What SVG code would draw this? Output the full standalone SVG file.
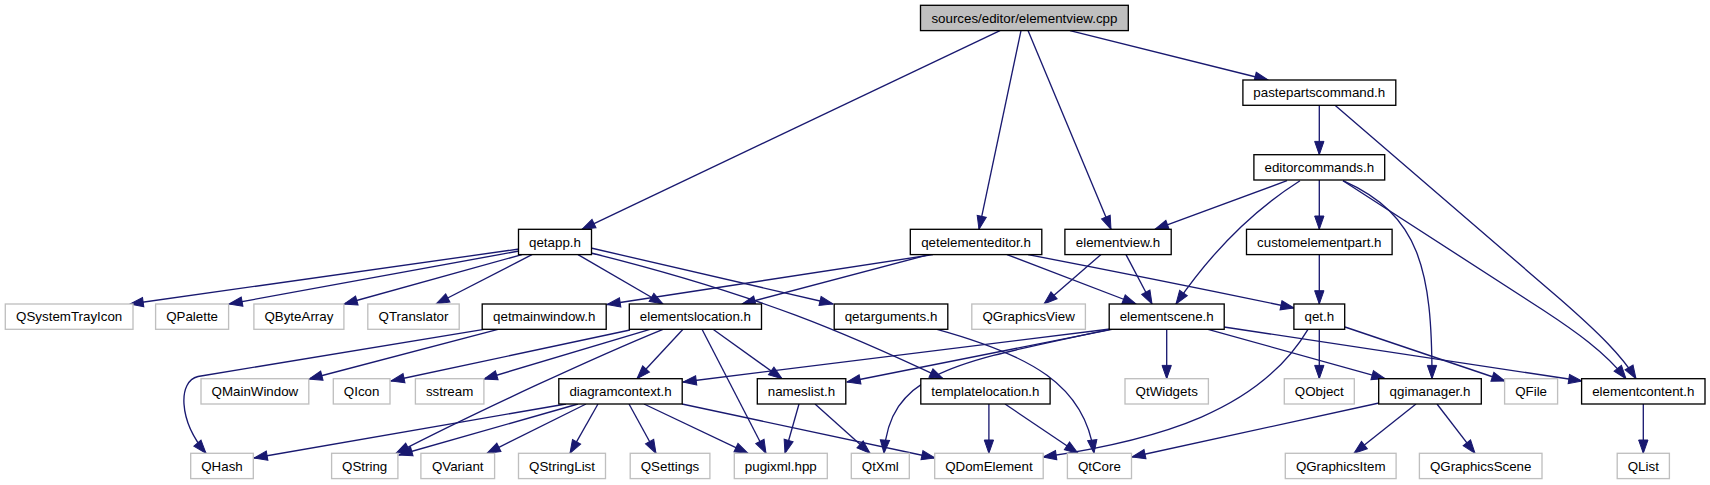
<svg xmlns="http://www.w3.org/2000/svg" width="1710" height="485" viewBox="0 0 1710 485">
<style>
rect{stroke-width:1.33}
.r{fill:#bfbfbf;stroke:#000}
.n{fill:#fff;stroke:#000}
.x{fill:#fff;stroke:#bfbfbf}
text{font-family:"Liberation Sans",Arial,Helvetica,sans-serif;font-size:13.33px;text-anchor:middle;fill:#000}
#edges path{fill:none;stroke:#191970;stroke-width:1.33;marker-end:url(#a)}
</style>
<defs>
<marker id="a" markerUnits="userSpaceOnUse" markerWidth="13.3" markerHeight="9.33" refX="13.3" refY="4.67" orient="auto" viewBox="0 0 13.3 9.33" overflow="visible">
<path d="M0,0L13.3,4.67L0,9.33z" fill="#191970" stroke="#191970" stroke-width="1"/>
</marker>
</defs>
<rect width="1710" height="485" fill="#fff"/>
<g id="edges">
<path d="M1000,30.6L582,229.3"/>
<path d="M1021,30.6L979,229.3"/>
<path d="M1028,30.6L1111,229.3"/>
<path d="M1070,30.6L1268,80"/>
<path d="M1319.3,105.3L1319.3,154.7"/>
<path d="M1335,105.3L1560,299C1600,334 1622,356 1636,378.7"/>
<path d="M1287,180.7L1155,229.3"/>
<path d="M1300,180.7Q1230,225 1176,304"/>
<path d="M1319.3,180L1319.3,229.3"/>
<path d="M1343,180.7C1420,215 1432,270 1432,378.7"/>
<path d="M1343,180.7L1543,310C1575,331 1605,352 1626,378.7"/>
<path d="M519,249L130,304"/>
<path d="M519,251L229,304"/>
<path d="M522,254.6L344,304"/>
<path d="M532,254.6L436,304"/>
<path d="M578,254.6L663,304"/>
<path d="M591,248L833,304"/>
<path d="M591,253C760,295 850,335 943,378.7"/>
<path d="M933,254.6L607,304.5"/>
<path d="M929,254.6L742,304"/>
<path d="M1007,254.6L1136,304"/>
<path d="M1028,254.6Q1170,282 1294,308"/>
<path d="M1101,254.6L1044,304"/>
<path d="M1126,254.6L1152,304"/>
<path d="M1319.3,254.6L1319.3,304"/>
<path d="M498,329.3L309,379"/>
<path d="M484,329.3L198,376.5C178,381 178,420 206,453.3"/>
<path d="M630,330L391,381"/>
<path d="M650,329.3L484,379"/>
<path d="M663,329.3C600,355 480,410 396,453.3"/>
<path d="M683,329.3L637,378.7"/>
<path d="M713,329.3L782,378.7"/>
<path d="M702,329.3L766,453.3"/>
<path d="M566,404L254,458"/>
<path d="M578,404L399,455"/>
<path d="M586,404L487,453.3"/>
<path d="M598,404L570,453.3"/>
<path d="M629,404L656,453.3"/>
<path d="M644,404L748,453.3"/>
<path d="M682,404L935,458"/>
<path d="M799,404L785,453.3"/>
<path d="M815,404L870,453.3"/>
<path d="M988.9,404L988.9,453.3"/>
<path d="M1005,404L1078,453.3"/>
<path d="M937,329.3C1030,355 1085,385 1094,453.3"/>
<path d="M1166.7,329.3L1166.7,378.7"/>
<path d="M1110,329L683,382"/>
<path d="M1112,329.3L847,382"/>
<path d="M1110,329.3C960,362 890,370 884,453.3"/>
<path d="M1208,329.3L1385,378.7"/>
<path d="M1224,327L1582,381"/>
<path d="M1308,329.3C1260,410 1160,440 1043,457"/>
<path d="M1319.3,329.3L1319.3,378.7"/>
<path d="M1345,327L1505,381"/>
<path d="M1379,403L1132,457"/>
<path d="M1416,404L1354,453.3"/>
<path d="M1437,404L1475,453.3"/>
<path d="M1643.3,404L1643.3,453.3"/>
</g>
<g id="root"><rect class="r" x="920.5" y="5.3" width="207.8" height="25.3"/><text x="1024.4" y="22.5">sources/editor/elementview.cpp</text></g>
<g id="pastepartscommand"><rect class="n" x="1242.9" y="80" width="152.9" height="25.3"/><text x="1319.3" y="97.2">pastepartscommand.h</text></g>
<g id="editorcommands"><rect class="n" x="1253.9" y="154.7" width="130.8" height="25.3"/><text x="1319.3" y="171.9">editorcommands.h</text></g>
<g id="qetapp"><rect class="n" x="518.5" y="229.3" width="73" height="25.3"/><text x="555" y="246.5">qetapp.h</text></g>
<g id="qetelementeditor"><rect class="n" x="910.3" y="229.3" width="131.5" height="25.3"/><text x="976" y="246.5">qetelementeditor.h</text></g>
<g id="elementview"><rect class="n" x="1064.9" y="229.3" width="106.3" height="25.3"/><text x="1118" y="246.5">elementview.h</text></g>
<g id="customelementpart"><rect class="n" x="1246.5" y="229.3" width="145.6" height="25.3"/><text x="1319.3" y="246.5">customelementpart.h</text></g>
<g id="QSystemTrayIcon"><rect class="x" x="5.3" y="304" width="127.7" height="25.3"/><text x="69.2" y="321.2">QSystemTrayIcon</text></g>
<g id="QPalette"><rect class="x" x="155.6" y="304" width="73" height="25.3"/><text x="192.1" y="321.2">QPalette</text></g>
<g id="QByteArray"><rect class="x" x="253.9" y="304" width="90" height="25.3"/><text x="298.9" y="321.2">QByteArray</text></g>
<g id="QTranslator"><rect class="x" x="367.8" y="304" width="91.4" height="25.3"/><text x="413.5" y="321.2">QTranslator</text></g>
<g id="qetmainwindow"><rect class="n" x="482.2" y="304" width="124" height="25.3"/><text x="544.2" y="321.2">qetmainwindow.h</text></g>
<g id="elementslocation"><rect class="n" x="629.3" y="304" width="132.2" height="25.3"/><text x="695.4" y="321.2">elementslocation.h</text></g>
<g id="qetarguments"><rect class="n" x="834.2" y="304" width="113.6" height="25.3"/><text x="891" y="321.2">qetarguments.h</text></g>
<g id="QGraphicsView"><rect class="x" x="971.8" y="304" width="113.6" height="25.3"/><text x="1028.6" y="321.2">QGraphicsView</text></g>
<g id="elementscene"><rect class="n" x="1109.2" y="304" width="115" height="25.3"/><text x="1166.7" y="321.2">elementscene.h</text></g>
<g id="qet"><rect class="n" x="1293.9" y="304" width="50.8" height="25.3"/><text x="1319.3" y="321.2">qet.h</text></g>
<g id="QMainWindow"><rect class="x" x="201" y="378.7" width="107.8" height="25.3"/><text x="254.9" y="395.9">QMainWindow</text></g>
<g id="QIcon"><rect class="x" x="333.3" y="378.7" width="56.7" height="25.3"/><text x="361.6" y="395.9">QIcon</text></g>
<g id="sstream"><rect class="x" x="415.4" y="378.7" width="68.5" height="25.3"/><text x="449.6" y="395.9">sstream</text></g>
<g id="diagramcontext"><rect class="n" x="558.8" y="378.7" width="123.4" height="25.3"/><text x="620.5" y="395.9">diagramcontext.h</text></g>
<g id="nameslist"><rect class="n" x="757.3" y="378.7" width="88.5" height="25.3"/><text x="801.5" y="395.9">nameslist.h</text></g>
<g id="templatelocation"><rect class="n" x="920.8" y="378.7" width="129.3" height="25.3"/><text x="985.4" y="395.9">templatelocation.h</text></g>
<g id="QtWidgets"><rect class="x" x="1125" y="378.7" width="83.4" height="25.3"/><text x="1166.7" y="395.9">QtWidgets</text></g>
<g id="QObject"><rect class="x" x="1284.3" y="378.7" width="70" height="25.3"/><text x="1319.3" y="395.9">QObject</text></g>
<g id="qgimanager"><rect class="n" x="1378.7" y="378.7" width="102.6" height="25.3"/><text x="1430" y="395.9">qgimanager.h</text></g>
<g id="QFile"><rect class="x" x="1504.6" y="378.7" width="53" height="25.3"/><text x="1531.1" y="395.9">QFile</text></g>
<g id="elementcontent"><rect class="n" x="1581.6" y="378.7" width="123.4" height="25.3"/><text x="1643.3" y="395.9">elementcontent.h</text></g>
<g id="QHash"><rect class="x" x="190.7" y="453.3" width="62.6" height="25.3"/><text x="222" y="470.5">QHash</text></g>
<g id="QString"><rect class="x" x="331.6" y="453.3" width="66.3" height="25.3"/><text x="364.7" y="470.5">QString</text></g>
<g id="QVariant"><rect class="x" x="420.9" y="453.3" width="73.7" height="25.3"/><text x="457.7" y="470.5">QVariant</text></g>
<g id="QStringList"><rect class="x" x="518.5" y="453.3" width="87" height="25.3"/><text x="562" y="470.5">QStringList</text></g>
<g id="QSettings"><rect class="x" x="630.2" y="453.3" width="79.7" height="25.3"/><text x="670" y="470.5">QSettings</text></g>
<g id="pugixml"><rect class="x" x="734.3" y="453.3" width="93" height="25.3"/><text x="780.8" y="470.5">pugixml.hpp</text></g>
<g id="QtXml"><rect class="x" x="851.3" y="453.3" width="58" height="25.3"/><text x="880.3" y="470.5">QtXml</text></g>
<g id="QDomElement"><rect class="x" x="934.7" y="453.3" width="108.5" height="25.3"/><text x="988.9" y="470.5">QDomElement</text></g>
<g id="QtCore"><rect class="x" x="1067.4" y="453.3" width="64.1" height="25.3"/><text x="1099.4" y="470.5">QtCore</text></g>
<g id="QGraphicsItem"><rect class="x" x="1285.3" y="453.3" width="110.8" height="25.3"/><text x="1340.7" y="470.5">QGraphicsItem</text></g>
<g id="QGraphicsScene"><rect class="x" x="1419.4" y="453.3" width="122.6" height="25.3"/><text x="1480.7" y="470.5">QGraphicsScene</text></g>
<g id="QList"><rect class="x" x="1617.2" y="453.3" width="52.2" height="25.3"/><text x="1643.3" y="470.5">QList</text></g>
</svg>
